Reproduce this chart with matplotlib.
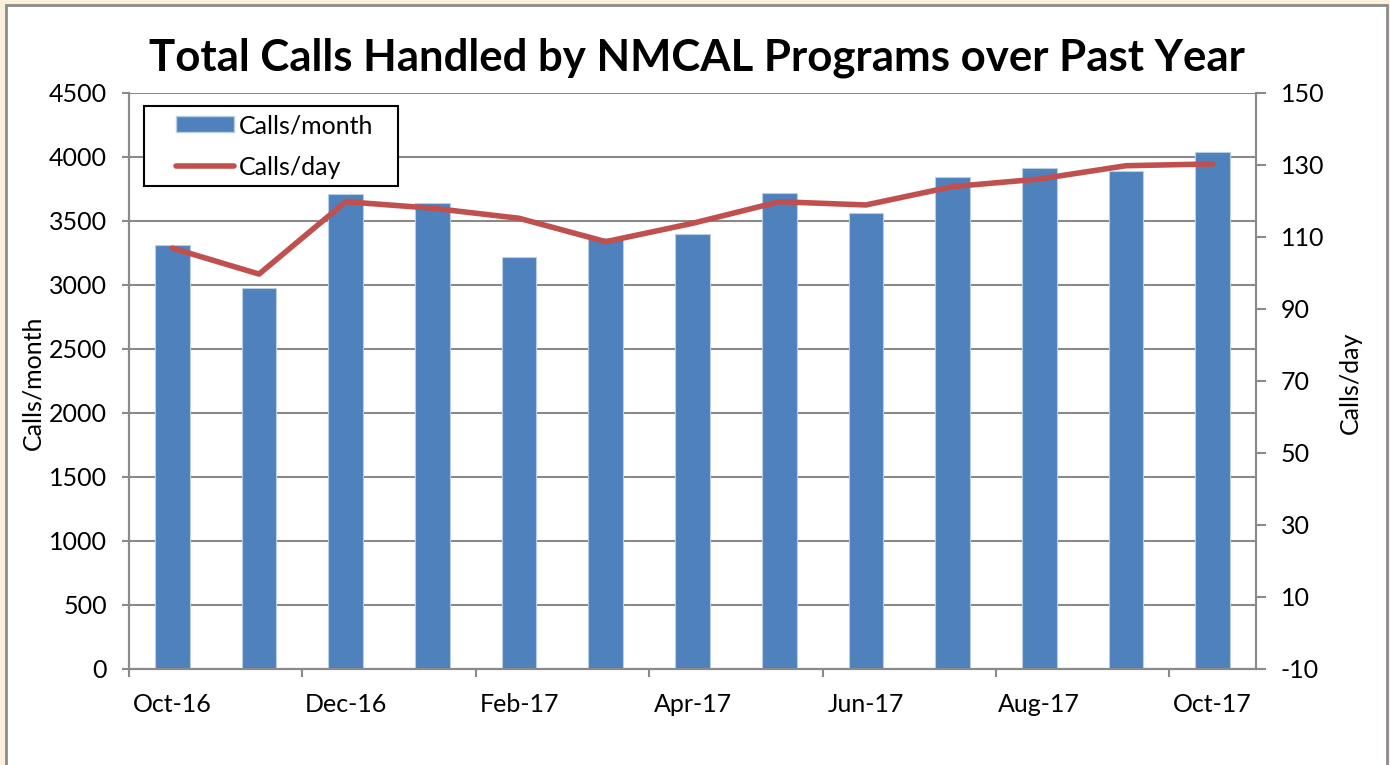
import matplotlib
matplotlib.use("Agg")
import matplotlib.pyplot as plt
from matplotlib.patches import Rectangle, Patch
from matplotlib.lines import Line2D
import numpy as np

plt.rcParams['font.family'] = ['Lato', 'DejaVu Sans']
plt.rcParams['axes.unicode_minus'] = False

months = ['Oct-16', 'Nov-16', 'Dec-16', 'Jan-17', 'Feb-17', 'Mar-17', 'Apr-17',
          'May-17', 'Jun-17', 'Jul-17', 'Aug-17', 'Sep-17', 'Oct-17']
calls_month = [3310, 2979, 3711, 3643, 3219, 3365, 3401, 3716, 3562, 3844, 3914, 3891, 4036]
calls_day = [106.9, 99.7, 119.8, 118.0, 115.2, 108.7, 113.8, 119.8, 118.9, 124.0, 126.1, 129.8, 130.3]
left_ticks = [0, 500, 1000, 1500, 2000, 2500, 3000, 3500, 4000, 4500]
right_ticks = [-10, 10, 30, 50, 70, 90, 110, 130, 150]
title = 'Total Calls Handled by NMCAL Programs over Past Year'

W, H = 1390, 765
AX_L, AX_R, AX_T, AX_B = 129, 1256, 93, 669
fig = plt.figure(figsize=(W / 100, H / 100), dpi=100)
fig.patch.set_facecolor('#FBF0DC')
fig.patches.append(Rectangle((6 / W, -0.02), (1387 - 6) / W, 1.02 - 5 / H,
                             transform=fig.transFigure, facecolor='white',
                             edgecolor='#8C8C8C', linewidth=2, zorder=-5))

ax = fig.add_axes([AX_L / W, 1 - AX_B / H, (AX_R - AX_L) / W, (AX_B - AX_T) / H])
ax.set_zorder(1)
ax2 = ax.twinx()
ax2.set_zorder(2)
ax2.patch.set_visible(False)


def axx(px):
    return (px - AX_L) / (AX_R - AX_L)


def axy(py):
    return (AX_B - py) / (AX_B - AX_T)


x = np.arange(len(months))
grid_c = '#8A8A8A'
fs = 18
ax.bar(x, calls_month, width=0.40, color='#4F81BD', edgecolor='#B9CDE5',
       linewidth=0.8, zorder=3)
ax.set_xlim(-0.5, len(months) - 0.5)
ax.set_ylim(0, 4500)
ax.set_yticks(left_ticks)
ax.yaxis.grid(True, color=grid_c, linewidth=1.5, zorder=0)
ax.set_axisbelow(True)

ax2.plot(x, calls_day, color='#C0504D', linewidth=4, solid_capstyle='round', zorder=4)
ax2.set_ylim(-10, 150)
ax2.set_yticks(right_ticks)

# x ticks: marks at boundaries every 2 categories, labels on every other category
ax.set_xticks(np.arange(-0.5, len(months) - 1, 2))
ax.set_xticklabels([])
ax.set_xticks(x[::2], minor=True)
ax.set_xticklabels(months[::2], minor=True)
ax.tick_params(axis='x', which='major', direction='out', length=6, width=1.5, color=grid_c)
ax.tick_params(axis='x', which='minor', length=0, pad=17, labelsize=fs)
ax.tick_params(axis='y', direction='out', length=5, width=1.5, color=grid_c, pad=11, labelsize=fs)
ax2.tick_params(axis='y', direction='out', length=7, width=1.5, color=grid_c, pad=11, labelsize=fs)

for a in (ax, ax2):
    a.spines['top'].set_visible(False)
    for s in ('left', 'right', 'bottom'):
        a.spines[s].set_color(grid_c)
        a.spines[s].set_linewidth(1.5)

ax.set_ylabel('Calls/month', fontsize=fs)
ax.yaxis.set_label_coords(axx(44), axy(383))
ax2.set_ylabel('Calls/day', fontsize=fs)
ax2.yaxis.set_label_coords(axx(1339), axy(383))

fig.text(0.5 * (153 + 1240) / W, 1 - 58 / H, title, ha='center', va='center',
         fontsize=31.5, fontweight='bold')

# legend box
ax2.add_patch(Rectangle((axx(144), axy(186)), axx(398) - axx(144), axy(106) - axy(186),
                        transform=ax2.transAxes, facecolor='white', edgecolor='black',
                        linewidth=1.5, zorder=9, clip_on=False))
handles = [Patch(facecolor='#4F81BD', edgecolor='#B9CDE5'),
           Line2D([0], [0], color='#C0504D', linewidth=4, solid_capstyle='round')]
leg = ax2.legend(handles, ['Calls/month', 'Calls/day'], loc='upper left',
                 bbox_to_anchor=(axx(176), axy(114)),
                 fontsize=fs, frameon=False,
                 handlelength=2.3, handleheight=0.6, handletextpad=0.2, borderpad=0,
                 labelspacing=0.75, borderaxespad=0)
leg.set_zorder(10)

fig.savefig('out.png', dpi=100, facecolor=fig.get_facecolor())
